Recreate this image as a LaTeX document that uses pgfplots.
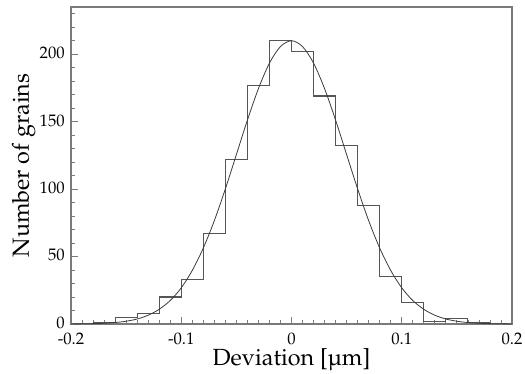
\documentclass[border=0pt]{standalone}
\usepackage[T1]{fontenc}
\usepackage{mathpazo}
\usepackage{textcomp}
\usepackage{pgfplots}
\pgfplotsset{compat=1.18}
\definecolor{histc}{HTML}{555555}
\definecolor{curvec}{HTML}{3A3A3A}
\definecolor{axc}{HTML}{7A7A7A}
\begin{document}
\begin{tikzpicture}
\begin{axis}[
  scale only axis,
  width=330.75pt, height=237.75pt,
  xmin=-0.2, xmax=0.2, ymin=0, ymax=235,
  xtick={-0.2,-0.1,0,0.1,0.2},
  xticklabels={-0.2,-0.1,0,0.1,0.2},
  ytick={0,50,100,150,200},
  minor xtick={-0.19,-0.18,...,0.19},
  minor ytick={10,20,...,230},
  tick align=inside,
  xtick pos=bottom, ytick pos=left,
  major tick length=5pt, minor tick length=3pt,
  every tick/.style={axc, line width=0.6pt},
  axis line style={axc, line width=0.8pt},
  tick label style={font=\fontsize{12.5}{14}\selectfont, inner sep=0pt},
  xticklabel style={anchor=north, yshift=-6.5pt},
  yticklabel style={anchor=east, xshift=-4.5pt, yshift=1pt},
  label style={font=\fontsize{17.5}{20}\selectfont},
  xlabel={Deviation [\textmu m]},
  xlabel style={at={(axis description cs:0.5,0)}, anchor=base, yshift=-31.5pt},
  clip=false,
]
\addplot[const plot, histc, line width=0.8pt] coordinates {
(-0.18,1) (-0.16,5) (-0.14,8) (-0.12,20) (-0.10,33) (-0.08,67) (-0.06,122)
(-0.04,177) (-0.02,210) (0.00,202) (0.02,169) (0.04,132) (0.06,88)
(0.08,35) (0.10,16) (0.12,2) (0.14,4) (0.16,1) (0.18,1)
};
\addplot[smooth, curvec, line width=0.6pt] coordinates {
(-0.20,0.06) (-0.19,0.12) (-0.18,0.27) (-0.17,0.55) (-0.16,1.08) (-0.15,2.05)
(-0.14,3.7) (-0.13,6.5) (-0.12,10.9) (-0.11,17.4) (-0.10,26.8) (-0.09,39.7)
(-0.08,56.3) (-0.07,76.6) (-0.06,100.1) (-0.05,125.6) (-0.04,151.1)
(-0.03,174.5) (-0.02,193.4) (-0.01,205.7) (0.00,210) (0.01,205.7)
(0.02,193.4) (0.03,174.5) (0.04,151.1) (0.05,125.6) (0.06,100.1)
(0.07,76.6) (0.08,56.3) (0.09,39.7) (0.10,26.8) (0.11,17.4) (0.12,10.9)
(0.13,6.5) (0.14,3.7) (0.15,2.05) (0.16,1.08) (0.17,0.55) (0.18,0.27)
(0.19,0.12) (0.20,0.06)
};
\coordinate (sw) at (rel axis cs:0,0);
\coordinate (ml) at (rel axis cs:0,0.5);
\end{axis}
\node[rotate=90, anchor=base, inner sep=0pt, font=\fontsize{17.5}{20}\selectfont] at ([xshift=-31.5pt]ml) {Number of grains};
\pgfresetboundingbox
\path[use as bounding box] ([xshift=-53.25pt,yshift=-37.5pt]sw) rectangle ([xshift=340.5pt,yshift=243pt]sw);
\end{tikzpicture}
\end{document}
